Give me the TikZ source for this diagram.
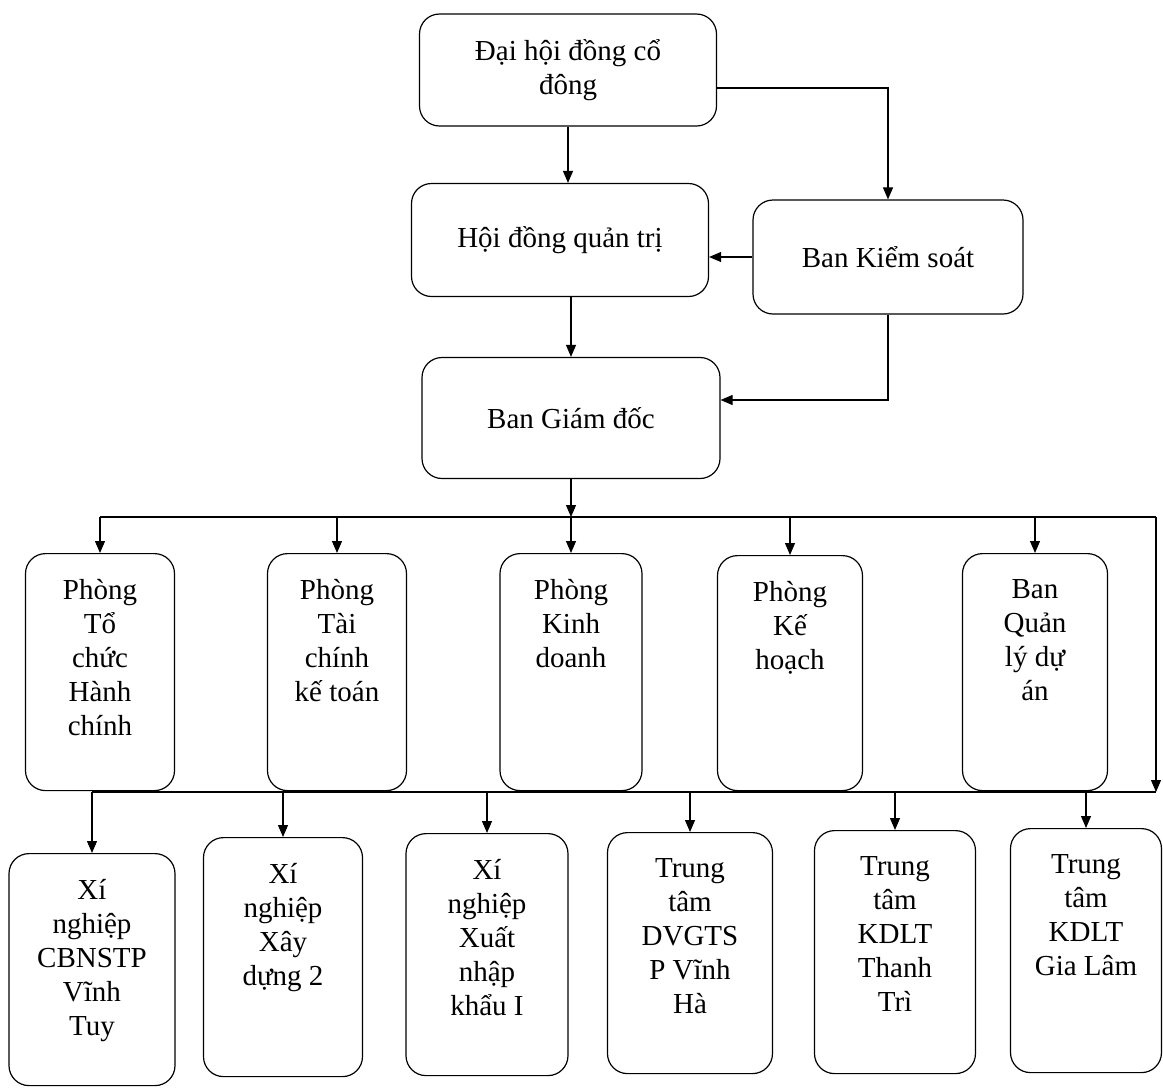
\documentclass[tikz,border=0pt]{standalone}
\usepackage{fontspec}
\setmainfont{Liberation Serif}
\usepackage{tikz}
\usetikzlibrary{arrows.meta}
\newcommand{\cell}[3]{\parbox[c][#1][t]{#2}{\centering\vspace*{26pt}#3}}
\tikzset{
  head/.style={draw, line width=1.2pt, rounded corners=20pt, align=center, inner sep=0pt, font=\fontsize{29}{34}\selectfont},
  unit/.style={draw, line width=1.2pt, rounded corners=20pt, inner sep=0pt, anchor=north, font=\fontsize{29}{34}\selectfont},
  link/.style={line width=1.1pt, -{Triangle[length=12pt,width=10pt]}},
  bus/.style={line width=1.1pt}
}
\begin{document}
\begin{tikzpicture}[x=1pt, y=-1pt]
\useasboundingbox (0,0) rectangle (1163,1088);
\node[head, minimum width=297pt, minimum height=112pt] (dhcd) at (568,70) {Đại hội đồng cổ\\đông};
\node[head, minimum width=297pt, minimum height=113pt] (hdqt) at (560,240) {Hội đồng quản trị};
\node[head, minimum width=270pt, minimum height=114pt] (bks) at (888,257) {Ban Kiểm soát};
\node[head, minimum width=298pt, minimum height=121pt] (bgd) at (571,418) {Ban Giám đốc};
\node[unit] (ptc) at (100,553) {\cell{237pt}{149pt}{Phòng\\Tổ\\chức\\Hành\\chính}};
\node[unit] (ptk) at (337,553) {\cell{237pt}{139pt}{Phòng\\Tài\\chính\\kế toán}};
\node[unit] (pkd) at (571,553) {\cell{237pt}{142pt}{Phòng\\Kinh\\doanh}};
\node[unit] (pkh) at (790,555) {\cell{235pt}{145pt}{Phòng\\Kế\\hoạch}};
\node[unit] (bql) at (1035,553) {\cell{237pt}{145pt}{Ban\\Quản\\lý dự\\án}};
\node[unit] (xvt) at (92,853) {\cell{232pt}{166pt}{Xí\\nghiệp\\CBNSTP\\Vĩnh\\Tuy}};
\node[unit] (xxd) at (283,837) {\cell{239pt}{159pt}{Xí\\nghiệp\\Xây\\dựng 2}};
\node[unit] (xnk) at (487,833) {\cell{242pt}{162pt}{Xí\\nghiệp\\Xuất\\nhập\\khẩu I}};
\node[unit] (tvh) at (690,832) {\cell{241pt}{165pt}{Trung\\tâm\\DVGTS\\P Vĩnh\\Hà}};
\node[unit] (ttt) at (895,830) {\cell{243pt}{161pt}{Trung\\tâm\\KDLT\\Thanh\\Trì}};
\node[unit] (tgl) at (1086,828) {\cell{244pt}{151pt}{Trung\\tâm\\KDLT\\Gia Lâm}};
\coordinate (ra) at (1156,517);
\coordinate (rb) at (1156,792);
\draw[link] (dhcd.south) -- (dhcd.south |- hdqt.north);
\draw[link] ([yshift=-18pt]dhcd.east) -| (bks.north);
\draw[link] (bks.west) -- (bks.west -| hdqt.east);
\draw[link] (hdqt.south -| bgd.north) -- (bgd.north);
\draw[link] (bks.south) |- ([yshift=18pt]bgd.east);
\draw[bus] (ptc.north |- ra) -- (ra);
\draw[link] (bgd.south) -- (bgd.south |- ra);
\draw[link] (bgd.south |- ra) -- (pkd.north);
\draw[link] (ptc.north |- ra) -- (ptc.north);
\draw[link] (ptk.north |- ra) -- (ptk.north);
\draw[link] (pkh.north |- ra) -- (pkh.north);
\draw[link] (bql.north |- ra) -- (bql.north);
\draw[link] (ra) -- (rb);
\draw[bus] (xvt.north |- rb) -- (rb);
\draw[link] (xvt.north |- rb) -- (xvt.north);
\draw[link] (xxd.north |- rb) -- (xxd.north);
\draw[link] (xnk.north |- rb) -- (xnk.north);
\draw[link] (tvh.north |- rb) -- (tvh.north);
\draw[link] (ttt.north |- rb) -- (ttt.north);
\draw[link] (tgl.north |- rb) -- (tgl.north);
\end{tikzpicture}
\end{document}
